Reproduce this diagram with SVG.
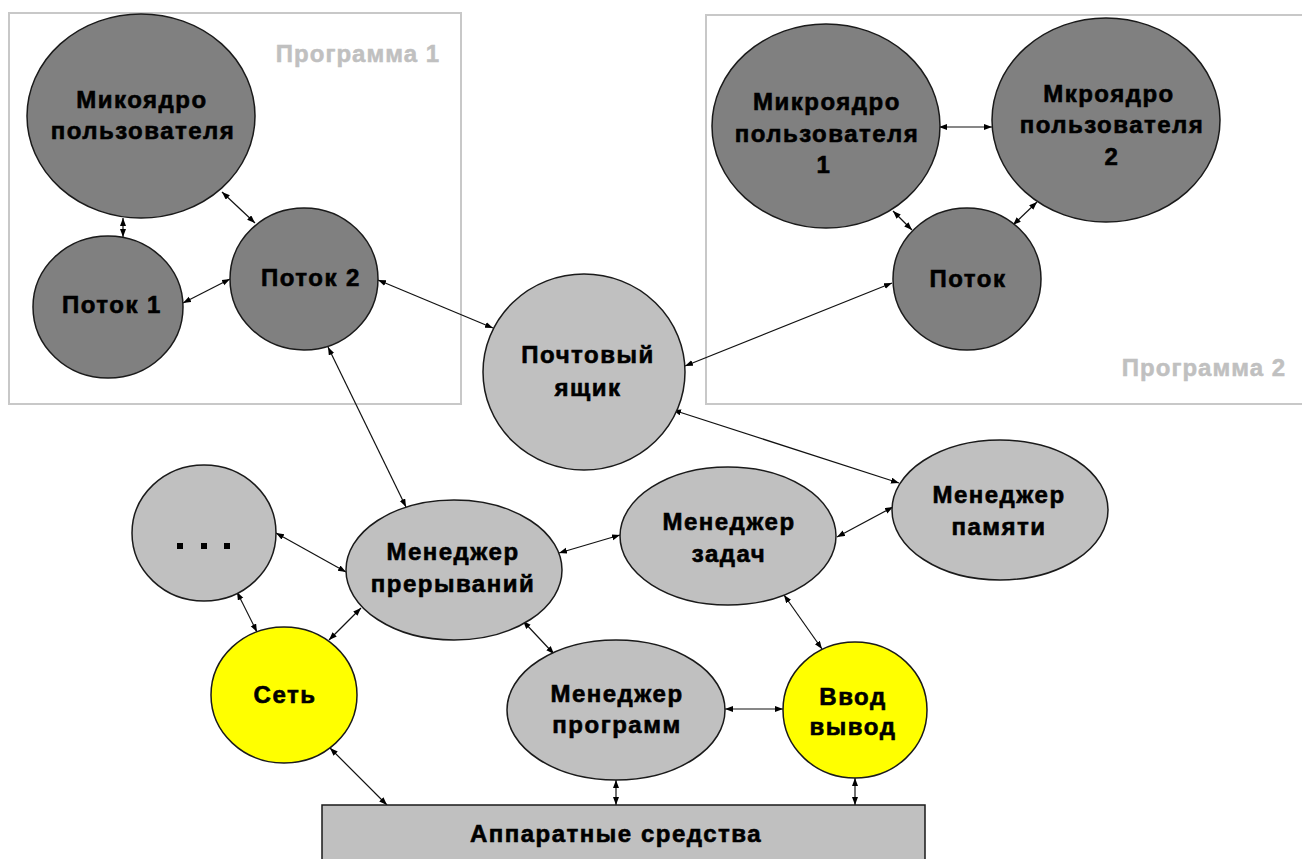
<svg xmlns="http://www.w3.org/2000/svg" width="1302" height="859" viewBox="0 0 1302 859">
  <defs>
    <marker id="arrow" markerUnits="userSpaceOnUse" markerWidth="9" markerHeight="7" refX="8" refY="3" orient="auto-start-reverse">
      <path d="M0,0 L8,3 L0,6 z" fill="#000"/>
    </marker>
    <style>
      .frame { fill: none; stroke: #c8c8c8; stroke-width: 2; }
      .frame-label { font-family: "Liberation Sans", Arial, sans-serif; font-weight: bold; font-size: 24px; letter-spacing: 1px; fill: #c0c0c0; stroke: #c0c0c0; stroke-width: 0.5; text-anchor: end; }
      .dark { fill: #808080; stroke: #1a1a1a; stroke-width: 1.5; }
      .light { fill: #c0c0c0; stroke: #1a1a1a; stroke-width: 1.5; }
      .yellow { fill: #ffff00; stroke: #1a1a1a; stroke-width: 1.5; }
      .label { font-family: "Liberation Sans", Arial, sans-serif; font-weight: bold; font-size: 24px; letter-spacing: 1.5px; fill: #000; stroke: #000; stroke-width: 0.6; text-anchor: middle; }
      .link { stroke: #111; stroke-width: 1.2; fill: none; marker-start: url(#arrow); marker-end: url(#arrow); }
    </style>
  </defs>

  <rect width="1302" height="859" fill="#fff"/>

  <!-- program frames -->
  <g id="program1">
    <rect class="frame" x="9" y="13" width="452" height="391"/>
    <text class="frame-label" x="440" y="62">Программа 1</text>
  </g>
  <g id="program2">
    <rect class="frame" x="706" y="15" width="700" height="389"/>
    <text class="frame-label" x="1286" y="376">Программа 2</text>
  </g>

  <!-- connectors -->
  <g id="connectors">
    <line class="link" x1="123" y1="218" x2="123" y2="237"/>
    <line class="link" x1="222" y1="192" x2="255" y2="223"/>
    <line class="link" x1="183" y1="303" x2="230" y2="279"/>
    <line class="link" x1="378" y1="280" x2="493" y2="328"/>
    <line class="link" x1="328" y1="347" x2="406" y2="507"/>
    <line class="link" x1="939" y1="127" x2="992" y2="127"/>
    <line class="link" x1="893" y1="211" x2="912" y2="230"/>
    <line class="link" x1="1037" y1="202" x2="1013" y2="225"/>
    <line class="link" x1="892" y1="283" x2="685" y2="366"/>
    <line class="link" x1="673" y1="410" x2="899" y2="483"/>
    <line class="link" x1="276" y1="533" x2="346" y2="572"/>
    <line class="link" x1="237" y1="592" x2="257" y2="632"/>
    <line class="link" x1="329" y1="640" x2="361" y2="608"/>
    <line class="link" x1="559" y1="553" x2="620" y2="535"/>
    <line class="link" x1="837" y1="537" x2="893" y2="507"/>
    <line class="link" x1="523" y1="621" x2="554" y2="654"/>
    <line class="link" x1="784" y1="595" x2="822" y2="649"/>
    <line class="link" x1="725" y1="709" x2="783" y2="709"/>
    <line class="link" x1="616" y1="780" x2="616" y2="805"/>
    <line class="link" x1="855" y1="778" x2="855" y2="805"/>
    <line class="link" x1="330" y1="748" x2="387" y2="805"/>
  </g>

  <!-- program 1 nodes -->
  <g id="user-microkernel">
    <ellipse class="dark" cx="141" cy="116" rx="114" ry="102"/>
    <text class="label" x="142" y="108">Микоядро</text>
    <text class="label" x="143" y="139">пользователя</text>
  </g>
  <g id="thread1">
    <ellipse class="dark" cx="108" cy="307" rx="75" ry="71"/>
    <text class="label" x="112" y="313">Поток 1</text>
  </g>
  <g id="thread2">
    <ellipse class="dark" cx="304" cy="279" rx="74" ry="71"/>
    <text class="label" x="311" y="286">Поток 2</text>
  </g>

  <!-- program 2 nodes -->
  <g id="user-microkernel-1">
    <ellipse class="dark" cx="826" cy="126" rx="114" ry="102"/>
    <text class="label" x="827" y="110">Микроядро</text>
    <text class="label" x="827" y="142">пользователя</text>
    <text class="label" x="824" y="173">1</text>
  </g>
  <g id="user-microkernel-2">
    <ellipse class="dark" cx="1106" cy="120" rx="114" ry="102"/>
    <text class="label" x="1109" y="102">Мкроядро</text>
    <text class="label" x="1112" y="133">пользователя</text>
    <text class="label" x="1112" y="165">2</text>
  </g>
  <g id="thread">
    <ellipse class="dark" cx="967" cy="279" rx="74" ry="71"/>
    <text class="label" x="968" y="287">Поток</text>
  </g>

  <!-- system nodes -->
  <g id="mailbox">
    <ellipse class="light" cx="584" cy="372" rx="101" ry="98"/>
    <text class="label" x="588" y="363">Почтовый</text>
    <text class="label" x="588" y="396">ящик</text>
  </g>
  <g id="other">
    <ellipse class="light" cx="204" cy="533" rx="72" ry="68"/>
    <rect x="177" y="543" width="6" height="6" fill="#000"/>
    <rect x="201" y="543" width="6" height="6" fill="#000"/>
    <rect x="224" y="543" width="6" height="6" fill="#000"/>
  </g>
  <g id="interrupt-manager">
    <ellipse class="light" cx="454" cy="570" rx="108" ry="70"/>
    <text class="label" x="453" y="560">Менеджер</text>
    <text class="label" x="453" y="592">прерываний</text>
  </g>
  <g id="task-manager">
    <ellipse class="light" cx="728" cy="536" rx="108" ry="69"/>
    <text class="label" x="729" y="530">Менеджер</text>
    <text class="label" x="729" y="562">задач</text>
  </g>
  <g id="memory-manager">
    <ellipse class="light" cx="1000" cy="510" rx="108" ry="70"/>
    <text class="label" x="999" y="503">Менеджер</text>
    <text class="label" x="999" y="535">памяти</text>
  </g>
  <g id="network">
    <ellipse class="yellow" cx="284" cy="695" rx="73" ry="68"/>
    <text class="label" x="285" y="703">Сеть</text>
  </g>
  <g id="program-manager">
    <ellipse class="light" cx="616" cy="710" rx="109" ry="70"/>
    <text class="label" x="617" y="702">Менеджер</text>
    <text class="label" x="617" y="733">программ</text>
  </g>
  <g id="input-output">
    <ellipse class="yellow" cx="855" cy="710" rx="72" ry="68"/>
    <text class="label" x="853" y="705">Ввод</text>
    <text class="label" x="853" y="735">вывод</text>
  </g>
  <g id="hardware">
    <rect class="light" x="322" y="805" width="603" height="70"/>
    <text class="label" x="616" y="842">Аппаратные средства</text>
  </g>
</svg>
